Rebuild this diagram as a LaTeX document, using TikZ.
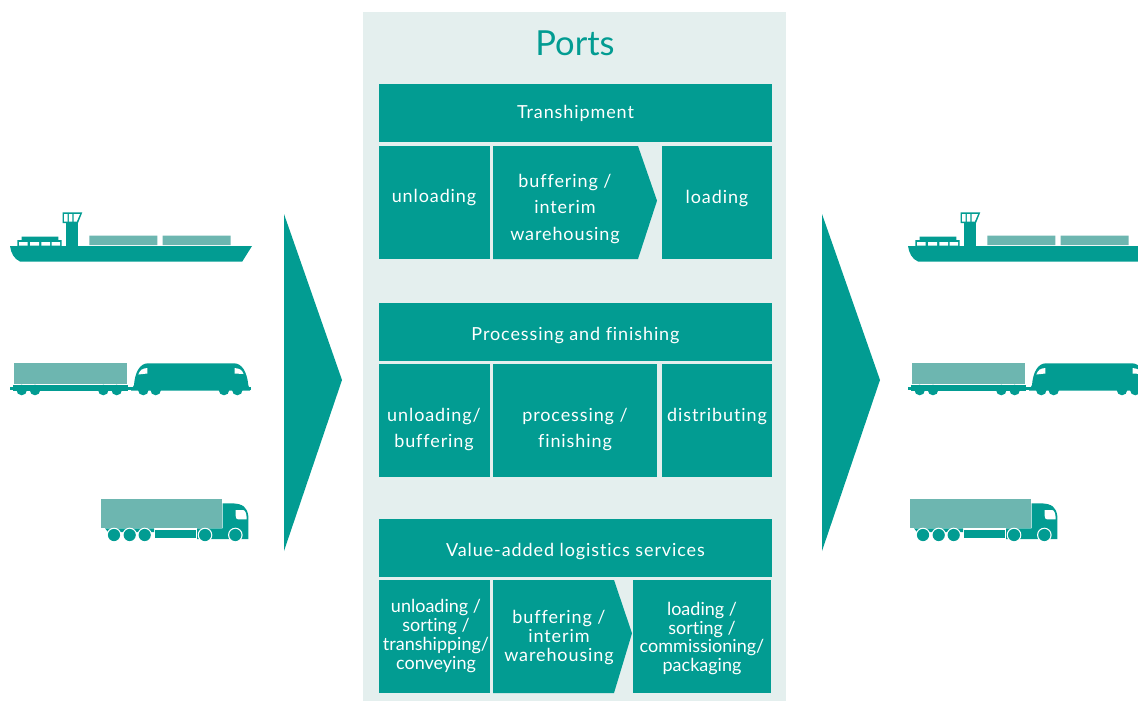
\documentclass[tikz,border=0pt]{standalone}
\usepackage{fontspec}
\setmainfont{Lato}[Ligatures=CommonOff]
\newfontfamily\widefont[LetterSpace=5,Ligatures=CommonOff]{Lato}
\usetikzlibrary{positioning}
\definecolor{portteal}{HTML}{029C92}
\definecolor{portpale}{HTML}{E4EFEE}
\definecolor{cargo}{HTML}{6DB6B0}
\tikzset{
  ship/.pic={
    \fill[portteal] (10,246) -- (252,246) -- (242.3,261.5) -- (20,261.5) .. controls (14,259) and (11,253) .. cycle;
    \fill[portteal] (65.7,222) rectangle (77.7,246);
    \fill[portteal] (62.7,212.3) -- (82.3,212.3) -- (78,223) -- (62.7,223) -- cycle;
    \fill[white] (64,214) rectangle (67.5,221.5) (68.8,214) rectangle (72.3,221.5);
    \fill[white] (73.6,214) -- (80,214) -- (76.8,221.5) -- (73.6,221.5) -- cycle;
    \fill[portteal] (17.3,240) rectangle (61.7,246) (21.7,236.7) rectangle (58.3,240);
    \fill[white] (19,242) rectangle (27.5,245.7) (30,242) rectangle (39,245.7) (41.3,242) rectangle (50,245.7) (51.7,242) rectangle (60,245.7);
    \fill[cargo] (89.3,235.7) rectangle (157.3,245.2) (162.7,235.7) rectangle (230.7,245.2);
  },
  train/.pic={
    \fill[cargo] (13.7,363.3) rectangle (126.7,384);
    \fill[portteal] (13,384.5) rectangle (128.3,390.5);
    \fill[portteal] (10,387.2) rectangle (251,389.7);
    \foreach \wx in {21.7,35,103.3,116.7,143.3,155.7,224,237.3}
      \fill[portteal] (\wx,390) circle (5.3);
    \fill[portteal] (134,385) .. controls (135,372) and (140,363.3) .. (148,363.3) -- (234,363.3) .. controls (242,363.3) and (247,372) .. (248.3,385) -- (250,390.5) -- (131,390.5) -- cycle;
    \fill[white] (138.3,374.5) .. controls (140,370) and (142,368.5) .. (147.3,368) -- (147.3,373.5) -- cycle;
    \fill[white] (243.5,374) .. controls (242,370) and (240,368.5) .. (234.5,368) -- (234.5,373.5) -- cycle;
  },
  truck/.pic={
    \fill[cargo] (100.7,499.3) rectangle (221.7,527.5);
    \fill[portteal] (105,528.3) -- (154,528.3) -- (154,532) -- (108,532) -- cycle;
    \fill[portteal] (197,528.3) -- (222.7,528.3) -- (222.7,503.3) -- (232,503.3) .. controls (243,503.8) and (247,507) .. (248.3,516) -- (248.3,539) -- (197,539) -- cycle;
    \fill[portteal] (155.3,530.3) rectangle (196.2,538.3);
    \fill[white] (235.7,510) -- (243,510) .. controls (245,510) and (246.7,513) .. (246.7,519.3) -- (238,519.3) .. controls (236.5,519.3) and (235.7,518) .. (235.7,516) -- cycle;
    \foreach \wx in {114,129.7,144.7,205,235.3} {
      \fill[white] (\wx,535) circle (7.3);
      \fill[portteal] (\wx,535) circle (6.1);
    }
  }
}
\begin{document}
\begin{tikzpicture}[x=1pt,y=-1pt,
    cell/.style={fill=portteal,inner sep=0pt,minimum height=113pt},
    bar/.style={fill=portteal,inner sep=0pt,minimum width=393pt,minimum height=58pt},
    loose/.style={text=white,align=center,inner sep=0pt,font=\widefont\fontsize{18}{26.7}\selectfont},
    spaced/.style={text=white,align=center,inner sep=0pt,font=\widefont\fontsize{18}{18.8}\selectfont},
    tight/.style={text=white,align=center,inner sep=0pt,font=\fontsize{18}{18.8}\selectfont}]
  \useasboundingbox (0,0) rectangle (1138,701);
  \fill[portpale] (363,12) rectangle (786,701);
  \node[text=portteal,inner sep=0pt,font=\fontsize{34.5}{38}\selectfont] (ports) at (575,43) {Ports};

  % big arrows
  \fill[portteal] (284,214) -- (342,380) -- (284,551) -- cycle;
  \fill[portteal] (822,214) -- (880,380) -- (822,551) -- cycle;

  % vehicles
  \pic at (0,0) {ship};
  \pic at (0,0) {train};
  \pic at (0,0) {truck};
  \pic at (898,0) {ship};
  \pic at (898,0) {train};
  \pic at (809,0) {truck};

  % transhipment
  \node[bar] (trans) at (575.5,113) {};
  \node[loose] (translab) at (575.5,113) {Transhipment};
  \node[cell,minimum width=111pt] (tbox1) at (434.5,202.5) {};
  \fill[portteal] (493,146) -- (638,146) -- (657,200.7) -- (638,259) -- (493,259) -- cycle;
  \node[cell,minimum width=110pt] (tbox3) at (717,202.5) {};
  \node[loose] (tlab1) at (434,198) {unloading};
  \node[loose] (tlab2) at (565,209) {buffering /\\interim\\warehousing};
  \node[loose] (tlab3) at (717,199) {loading};

  % processing
  \node[bar] (proc) at (575.5,332) {};
  \node[loose] (proclab) at (575.5,336) {Processing and finishing};
  \node[cell,minimum width=111pt] (pbox1) at (434.5,420.5) {};
  \node[cell,minimum width=164pt] (pbox2) at (575,420.5) {};
  \node[cell,minimum width=110pt] (pbox3) at (717,420.5) {};
  \node[loose] (plab1) at (434,429.5) {unloading/\\buffering};
  \node[loose] (plab2) at (575,429.5) {processing /\\finishing};
  \node[loose] (plab3) at (717,417) {distributing};

  % value-added
  \node[bar] (value) at (575.5,548) {};
  \node[loose] (valuelab) at (575.5,552) {Value-added logistics services};
  \node[cell,minimum width=111pt] (vbox1) at (434.5,636.5) {};
  \fill[portteal] (493,580) -- (614,580) -- (632,633.3) -- (614,693) -- (493,693) -- cycle;
  \node[cell,minimum width=138pt] (vbox3) at (702,636.5) {};
  \node[tight] (vlab1) at (436,636) {unloading /\\sorting /\\transhipping/\\conveying};
  \node[spaced] (vlab2) at (559,637.5) {buffering /\\interim\\warehousing};
  \node[tight] (vlab3) at (702,638.5) {loading /\\sorting /\\commissioning/\\packaging};
\end{tikzpicture}
\end{document}
